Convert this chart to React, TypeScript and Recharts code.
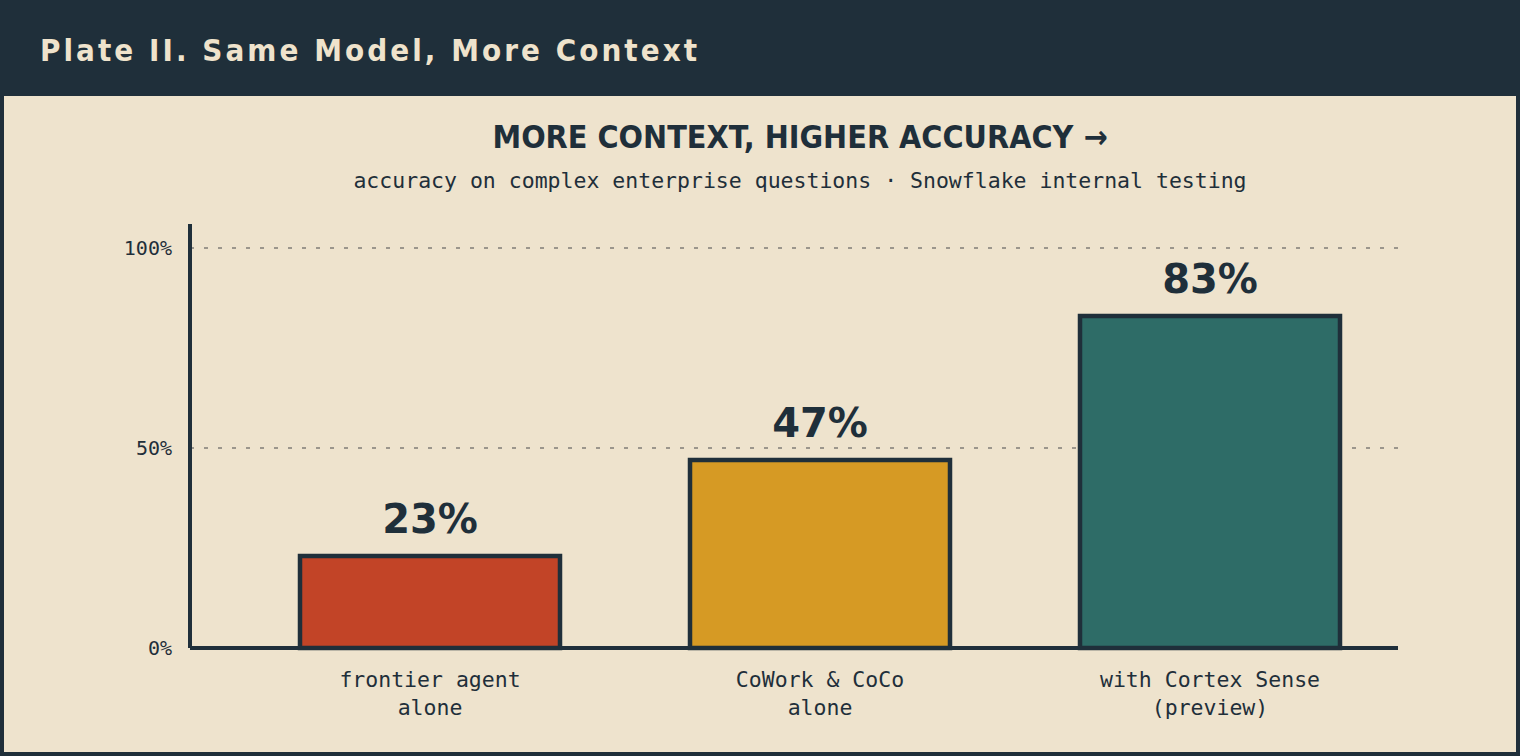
import { BarChart, Bar, XAxis, YAxis, CartesianGrid, Cell, LabelList } from "recharts";

const DARK = "#1f2f3a";
const CREAM = "#eee3cd";
const SANS = "'DejaVu Sans', sans-serif";
const COND = "'DejaVu Sans Condensed', 'DejaVu Sans', sans-serif";
const MONO = "'DejaVu Sans Mono', monospace";

// data
const categories = ["frontier agent\nalone", "CoWork & CoCo\nalone", "with Cortex Sense\n(preview)"];
const accuracy = [23, 47, 83];
const barColors = ["#c24427", "#d69a24", "#2e6c67"];
const yTicks = [0, 50, 100];
const gridValues = [50, 100];

const data = categories.map((name, i) => ({ name, value: accuracy[i] }));

const XTick = (props: any) => {
  const { x, y, payload } = props;
  const lines = String(payload.value).split("\n");
  return (
    <text x={x} y={y} textAnchor="middle" fill={DARK} fontFamily={MONO} fontSize={21.5}>
      {lines.map((l, i) => (
        <tspan key={i} x={x} dy={i === 0 ? 39 : 28}>
          {l}
        </tspan>
      ))}
    </text>
  );
};

const renderValueLabel = (props: any) => {
  const { x, y, width, value } = props;
  return (
    <text
      x={x + width / 2}
      y={y - 23}
      textAnchor="middle"
      fill={DARK}
      fontFamily={SANS}
      fontWeight="bold"
      fontSize={40}
    >
      {value}%
    </text>
  );
};

export default function App() {
  return (
    <div
      style={{
        position: "fixed",
        left: 0,
        top: 0,
        width: 1520,
        height: 756,
        background: DARK,
        overflow: "hidden",
      }}
    >
      <svg width={1520} height={96} style={{ position: "absolute", left: 0, top: 0 }}>
        <text
          x={40}
          y={61}
          fill="#efe3cc"
          fontFamily={COND}
          fontWeight="bold"
          fontSize={31}
          letterSpacing={3.05}
        >
          Plate II. Same Model, More Context
        </text>
      </svg>
      <div
        style={{
          position: "absolute",
          left: 4,
          top: 96,
          width: 1512,
          height: 656,
          background: CREAM,
        }}
      >
        <svg width={1512} height={110} style={{ position: "absolute", left: 0, top: 0 }}>
          <text x={796} y={52} textAnchor="middle" fill={DARK} fontFamily={COND} fontWeight="bold" fontSize={32}>
            MORE CONTEXT, HIGHER ACCURACY →
          </text>
          <text x={796} y={92} textAnchor="middle" fill={DARK} fontFamily={MONO} fontSize={21.5}>
            accuracy on complex enterprise questions · Snowflake internal testing
          </text>
        </svg>
        <div style={{ position: "absolute", left: 0, top: 0 }}>
          <BarChart
            width={1512}
            height={656}
            data={data}
            margin={{ top: 128, right: 118, left: 0, bottom: 0 }}
            barSize={260}
          >
            <CartesianGrid
              vertical={false}
              horizontalValues={gridValues}
              stroke="#9b968c"
              strokeWidth={2}
              strokeDasharray="4 10"
            />
            <XAxis
              dataKey="name"
              height={104}
              padding={{ left: 45, right: -7 }}
              axisLine={{ stroke: DARK, strokeWidth: 4 }}
              tickLine={false}
              tickSize={0}
              tickMargin={0}
              tick={<XTick />}
              interval={0}
            />
            <YAxis
              width={186}
              domain={[0, 106]}
              ticks={yTicks}
              tickFormatter={(v) => `${v}%`}
              axisLine={{ stroke: DARK, strokeWidth: 4 }}
              tickLine={false}
              tickSize={0}
              tickMargin={18}
              tick={{ fill: DARK, fontFamily: MONO, fontSize: 20 }}
            />
            <Bar dataKey="value" stroke={DARK} strokeWidth={4.5} isAnimationActive={false}>
              {data.map((d, i) => (
                <Cell key={d.name} fill={barColors[i]} />
              ))}
              <LabelList dataKey="value" content={renderValueLabel} />
            </Bar>
          </BarChart>
        </div>
      </div>
    </div>
  );
}
